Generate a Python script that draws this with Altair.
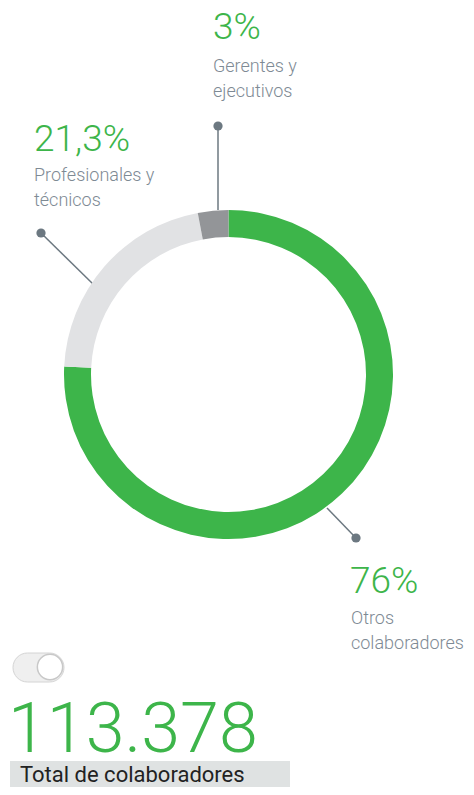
import altair as alt
import pandas as pd

# ---- data ----
categories = ["Otros colaboradores", "Profesionales y técnicos", "Gerentes y ejecutivos"]
values = [76, 21.3, 3]
pct_labels = ["76%", "21,3%", "3%"]
label_line1 = ["Otros", "Profesionales y", "Gerentes y"]
label_line2 = ["colaboradores", "técnicos", "ejecutivos"]
total_value = "113.378"
total_label = "Total de colaboradores"

# ---- styles ----
colors = ["#3db54a", "#e1e2e4", "#939598"]
GREEN = "#3db54a"
LABEL_GRAY = "#7e8a94"
LINE_GRAY = "#6c7881"
FONT = "Roboto"

OFF = 8  # page margin
W, H = 458, 779

# ---- layout (page coordinates, converted below) ----
cx, cy = 228.5, 374.5
r_out, r_in = 164.5, 137.5
pct_pos = [(350, 593), (34, 151), (213, 39)]
lab_pos = [(351, 624), (34, 181), (213, 72)]
line_gap = 25
leader = [((327, 508), (356, 538)), ((93, 284), (41, 233)), ((218, 210), (218, 126))]

def px(v):
    return v - OFF

donut_df = pd.DataFrame({"category": categories, "value": values, "order": [0, 1, 2]})

donut = alt.Chart(donut_df).mark_arc(
    innerRadius=r_in, outerRadius=r_out, x=px(cx), y=px(cy)
).encode(
    theta=alt.Theta("value:Q", stack=True),
    order=alt.Order("order:Q"),
    color=alt.Color("category:N", scale=alt.Scale(domain=categories, range=colors), legend=None),
)

pct_df = pd.DataFrame({
    "text": pct_labels,
    "x": [px(p[0]) for p in pct_pos],
    "y": [px(p[1]) for p in pct_pos],
})
pct_text = alt.Chart(pct_df).mark_text(
    align="left", baseline="alphabetic", font=FONT, fontSize=37, fontWeight=300, color=GREEN
).encode(x=alt.X("x:Q", scale=None), y=alt.Y("y:Q", scale=None), text="text:N")

lab_rows = []
for i in range(len(categories)):
    lx, ly = lab_pos[i]
    lab_rows.append({"text": label_line1[i], "x": px(lx), "y": px(ly)})
    lab_rows.append({"text": label_line2[i], "x": px(lx), "y": px(ly + line_gap)})
lab_df = pd.DataFrame(lab_rows)
lab_text = alt.Chart(lab_df).mark_text(
    align="left", baseline="alphabetic", font=FONT, fontSize=18, fontWeight=300, color=LABEL_GRAY
).encode(x=alt.X("x:Q", scale=None), y=alt.Y("y:Q", scale=None), text="text:N")

lead_df = pd.DataFrame({
    "x": [px(a[0]) for a, b in leader],
    "y": [px(a[1]) for a, b in leader],
    "x2": [px(b[0]) for a, b in leader],
    "y2": [px(b[1]) for a, b in leader],
})
lead_lines = alt.Chart(lead_df).mark_rule(color=LINE_GRAY, strokeWidth=1.5).encode(
    x=alt.X("x:Q", scale=None), y=alt.Y("y:Q", scale=None),
    x2="x2:Q", y2="y2:Q",
)
lead_dots = alt.Chart(lead_df).mark_circle(color=LINE_GRAY, opacity=1, size=85).encode(
    x=alt.X("x2:Q", scale=None), y=alt.Y("y2:Q", scale=None)
)

# toggle switch
toggle_df = pd.DataFrame({"x": [px(13)], "x2": [px(64)], "y": [px(653)], "y2": [px(682)],
                          "kx": [px(50)], "ky": [px(667)]})
toggle_bg = alt.Chart(toggle_df).mark_rect(
    cornerRadius=14.5, fill="#efefef", stroke="#d4d4d4", strokeWidth=1
).encode(x=alt.X("x:Q", scale=None), x2="x2:Q", y=alt.Y("y:Q", scale=None), y2="y2:Q")
toggle_knob = alt.Chart(toggle_df).mark_circle(
    size=640, fill="#ffffff", stroke="#c8c8c8", strokeWidth=1.5, opacity=1
).encode(x=alt.X("kx:Q", scale=None), y=alt.Y("ky:Q", scale=None))

# total
tot_df = pd.DataFrame({"text": [total_value], "x": [px(8)], "y": [px(752)]})
tot_text = alt.Chart(tot_df).mark_text(
    align="left", baseline="alphabetic", font=FONT, fontSize=70, fontWeight=300, color=GREEN
).encode(x=alt.X("x:Q", scale=None), y=alt.Y("y:Q", scale=None), text="text:N")

box_df = pd.DataFrame({"x": [px(10)], "x2": [px(290)], "y": [px(761)], "y2": [px(787)],
                       "tx": [px(20)], "ty": [px(782)], "text": [total_label]})
box = alt.Chart(box_df).mark_rect(fill="#dfe2e2").encode(
    x=alt.X("x:Q", scale=None), x2="x2:Q", y=alt.Y("y:Q", scale=None), y2="y2:Q"
)
box_text = alt.Chart(box_df).mark_text(
    align="left", baseline="alphabetic", font=FONT, fontSize=22, fontWeight=400, color="#222222"
).encode(x=alt.X("tx:Q", scale=None), y=alt.Y("ty:Q", scale=None), text="text:N")

chart = alt.layer(
    lead_lines, donut, lead_dots, pct_text, lab_text,
    toggle_bg, toggle_knob, tot_text, box, box_text
).properties(
    width=W, height=H, padding=0, autosize=alt.AutoSizeParams(type="none")
).configure_view(stroke=None)

chart.save("out.html", embed_options={"renderer": "svg", "actions": False})
